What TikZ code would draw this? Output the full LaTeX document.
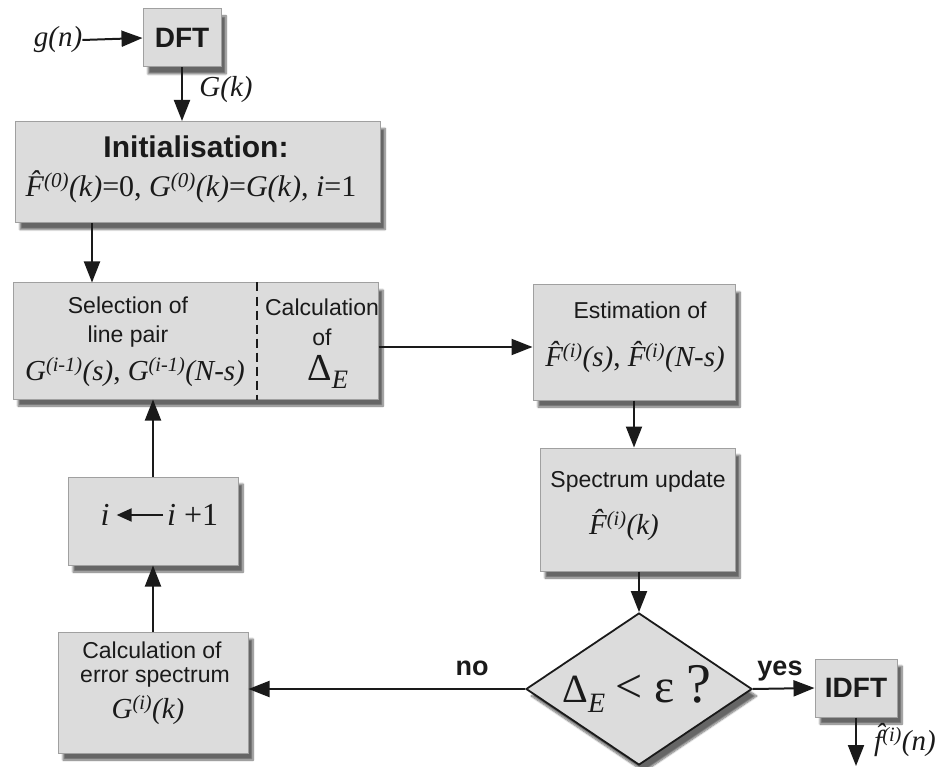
\documentclass[tikz,border=0pt]{standalone}
\usepackage{fontspec}
\setmainfont{Liberation Serif}
\setsansfont{Liberation Sans}
\usetikzlibrary{shapes.geometric,arrows.meta,shadows.blur}

\definecolor{boxfill}{HTML}{DCDCDC}
\definecolor{boxline}{HTML}{A0A0A0}
\definecolor{ink}{HTML}{1A1A1A}

\tikzset{
 shd/.style={blur shadow={shadow xshift=5pt, shadow yshift=-7pt, shadow blur steps=8, shadow opacity=60}},
 box/.style={draw=boxline, line width=1pt, fill=boxfill, inner sep=0pt, shd},
 arr/.style={draw=ink, line width=2pt, -{Triangle[length=21pt,width=16pt]}},
 sf/.style={font=\sffamily\fontsize{23}{26}\selectfont, text=ink, inner sep=0pt},
 sfb/.style={font=\sffamily\bfseries\fontsize{28}{32}\selectfont, text=ink, inner sep=0pt},
 fml/.style={font=\fontsize{30}{34}\selectfont, text=ink, inner sep=0pt},
 fms/.style={font=\fontsize{29}{32}\selectfont, text=ink, inner sep=0pt},
}

\begin{document}
\begin{tikzpicture}[x=1pt,y=-1pt]
\useasboundingbox (0,0) rectangle (942,767);

% boxes
\node[box, sfb, minimum width=78, minimum height=58] (dft) at (182,38) {DFT};
\node[box, minimum width=365, minimum height=101] (init) at (197.5,172) {};
\node[box, minimum width=365, minimum height=116] (sel) at (195.5,341) {};
\node[box, minimum width=202, minimum height=115] (est) at (634,342.5) {};
\node[box, minimum width=195, minimum height=123] (spec) at (637.5,509.5) {};
\node[diamond, draw=ink, line width=1.8pt, fill=boxfill, minimum width=226, minimum height=152, inner sep=0pt, shd] (dia) at (639,689) {};
\node[box, sfb, minimum width=82, minimum height=58] (idft) at (856,688) {IDFT};
\node[box, minimum width=170, minimum height=88] (ibox) at (153,521) {};
\node[box, minimum width=190, minimum height=121] (err) at (153,692.5) {};

% texts
\node[fms] (gn) at (58,40) {\textit{g(n)}};
\node[fms] (gk) at (226,90) {\textit{G(k)}};
\node[sfb, font=\sffamily\bfseries\fontsize{30}{34}\selectfont] (initT) at (196,147) {Initialisation:};
\node[fml] (initF) at (191,187) {\textit{\^F\textsuperscript{(0)}(k)}=0, \textit{G\textsuperscript{(0)}(k)}=\textit{G(k)}, \textit{i}=1};

\node[sf] (selA) at (128,305) {Selection of};
\node[sf] (selB) at (128,337) {line pair};
\node[fms] (selF) at (135,372) {\textit{G\textsuperscript{(i-1)}(s)}, \textit{G\textsuperscript{(i-1)}(N-s)}};
\node[sf] (calA) at (322,307) {Calculation};
\node[sf] (calB) at (322,337) {of};
\node[fml, font=\fontsize{38}{40}\selectfont] (calD) at (328,372) {Δ\textsubscript{\textit{E}}};

\node[sf] (estA) at (640,310) {Estimation of};
\node[fms] (estF) at (635,357) {\textit{\^F\textsuperscript{(i)}(s)}, \textit{\^F\textsuperscript{(i)}(N-s)}};

\node[sf] (specA) at (638,482) {Spectrum update};
\node[fms] (specF) at (624,525) {\textit{\^F\textsuperscript{(i)}(k)}};

\node[fml, font=\fontsize{40}{42}\selectfont] (diaT) at (637,689) {Δ\textsubscript{\textit{E}} {\fontsize{48}{50}\selectfont <~ε~{\fontsize{56}{58}\selectfont ?}}};

\node[sf] (errA) at (152,650) {Calculation of};
\node[sf] (errB) at (155,677) {error spectrum};
\node[fms] (errF) at (148,710) {\textit{G\textsuperscript{(i)}(k)}};

\node[fml, font=\fontsize{32}{34}\selectfont] (ia) at (105,515) {\textit{i}};
\node[fml, font=\fontsize{32}{34}\selectfont, anchor=west] (ib) at (167,515) {\textit{i} +1};

\node[sfb, font=\sffamily\bfseries\fontsize{27}{30}\selectfont] (no) at (472,668) {no};
\node[sfb, font=\sffamily\bfseries\fontsize{27}{30}\selectfont] (yes) at (780,671) {yes};
\node[fms] (fo) at (905,740) {\textit{\^f\textsuperscript{(i)}(n)}};

% connectors
\coordinate (c92) at (92,0);
\coordinate (dv) at (257,0);
\coordinate (out) at (857,766);

\draw[arr] (gn.east) -- (dft.west);
\draw[arr] (dft.south) -- (dft.south |- init.north);
\draw[arr] (init.south -| c92) -- (sel.north -| c92);
\draw[arr] ([yshift=-6pt]sel.east) -- ([yshift=-6pt]sel.east -| est.west);
\draw[arr] (est.south) -- (est.south |- spec.north);
\draw[arr] (dia.north |- spec.south) -- (dia.north);
\draw[arr] (dia.west) -- (dia.west -| err.east);
\draw[arr] (dia.east) -- (idft.west);
\draw[arr] (idft.south) -- (idft.south |- out);
\draw[arr] (err.north) -- (ibox.south);
\draw[arr] (ibox.north) -- (ibox.north |- sel.south);
\draw[arr, -{Triangle[length=15pt,width=13pt]}, shorten <=4pt, shorten >=7pt] (ib.west) -- (ia.east);

\draw[ink, line width=2pt, dash pattern=on 9pt off 5pt] (sel.north -| dv) -- (sel.south -| dv);
\end{tikzpicture}
\end{document}
